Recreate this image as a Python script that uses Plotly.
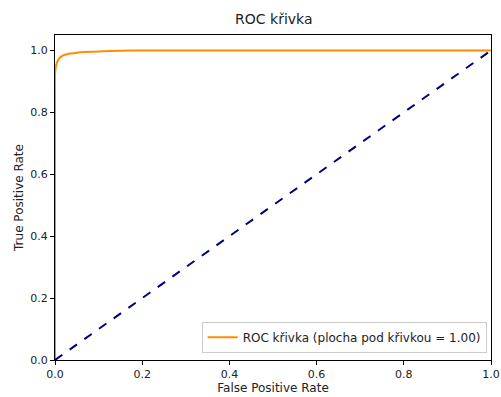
import plotly.graph_objects as go

fpr = [0.0, 0.0, 0.0, 0.0, 0.001, 0.003, 0.006, 0.01, 0.015, 0.02, 0.028, 0.035, 0.05, 0.07, 0.1, 0.15, 0.2, 0.4, 0.7, 1.0]
tpr = [0.0, 0.5, 0.85, 0.92, 0.94, 0.955, 0.966, 0.975, 0.981, 0.985, 0.988, 0.99, 0.993, 0.995, 0.997, 0.999, 1.0, 1.0, 1.0, 1.0]
diag_x = [0, 1]
diag_y = [0, 1]
auc = 1.00
title = "ROC křivka"
x_label = "False Positive Rate"
y_label = "True Positive Rate"
tick_vals = [0.0, 0.2, 0.4, 0.6, 0.8, 1.0]
tick_text = ["0.0", "0.2", "0.4", "0.6", "0.8", "1.0"]

font = "DejaVu Sans"
fig = go.Figure()
fig.add_trace(go.Scatter(x=fpr, y=tpr, mode="lines", line=dict(color="darkorange", width=2, shape="spline", smoothing=0.6),
                         name=f"ROC křivka (plocha pod křivkou = {auc:.2f})"))
fig.add_trace(go.Scatter(x=diag_x, y=diag_y, mode="lines", line=dict(color="navy", width=2, dash="dash"),
                         showlegend=False))
axis_common = dict(showgrid=False, zeroline=False, showline=True, linecolor="black", linewidth=1,
                   mirror=True, ticks="outside", ticklen=4, tickcolor="black", tickwidth=1,
                   tickvals=tick_vals, ticktext=tick_text, automargin=False,
                   tickfont=dict(family=font, size=11, color="#222"))
fig.update_layout(
    width=501, height=397,
    margin=dict(l=55, r=10, t=35, b=37),
    paper_bgcolor="white", plot_bgcolor="white",
    title=dict(text=title, x=0.5465, xanchor="center", y=0.952, yanchor="middle",
               font=dict(family=font, size=14, color="#222")),
    xaxis=dict(range=[0, 1], title=dict(text=x_label, font=dict(family=font, size=12, color="#222"), standoff=2), **axis_common),
    yaxis=dict(range=[0, 1.05], title=dict(text=y_label, font=dict(family=font, size=12, color="#222"), standoff=4), **axis_common),
    legend=dict(x=0.99, y=0.022, xanchor="right", yanchor="bottom", bgcolor="white",
                bordercolor="#cccccc", borderwidth=1, font=dict(family=font, size=12, color="#222"),
                tracegroupgap=0),
    showlegend=True,
)
fig.write_html("out.html")
